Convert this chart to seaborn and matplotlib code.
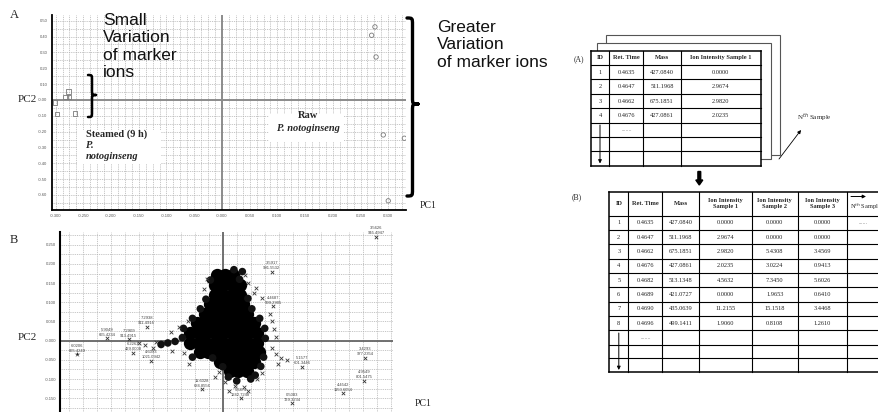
import matplotlib
matplotlib.use("Agg")
import matplotlib.pyplot as plt
import seaborn as sns
from matplotlib.path import Path
from matplotlib.patches import PathPatch, Rectangle, FancyArrow
from matplotlib.ticker import MultipleLocator, FixedLocator

sns.set_theme(style="white")
plt.rcParams["font.family"] = ["Liberation Sans", "DejaVu Sans"]
SERIF = ["Liberation Serif", "DejaVu Serif"]

# ---------------- Panel A: PCA scores ----------------
steamed_pc1 = [-0.301, -0.297, -0.282, -0.276, -0.277, -0.265]
steamed_pc2 = [-0.017, -0.090, 0.020, 0.020, 0.052, -0.086]
raw_pc1 = [0.270, 0.276, 0.278, 0.291, 0.329, 0.300]
raw_pc2 = [0.408, 0.461, 0.271, -0.221, -0.242, -0.637]

a_xticks = [-0.300, -0.250, -0.200, -0.150, -0.100, -0.050, 0.000,
            0.050, 0.100, 0.150, 0.200, 0.250, 0.300]
a_xticklabels = ["-0.300", "-0.250", "-0.200", "-0.150", "-0.100", "-0.050",
                 "-0.000", "0.050", "0.100", "0.150", "0.200", "0.250", "0.300"]
a_yticks = [0.50, 0.40, 0.30, 0.20, 0.10, 0.00, -0.10, -0.20, -0.30,
            -0.40, -0.50, -0.60]
a_yticklabels = ["0.50", "0.40", "0.30", "0.20", "0.10", "-0.00", "-0.10",
                 "-0.20", "-0.30", "-0.40", "-0.50", "-0.60"]

# ---------------- Panel B: PCA loadings ----------------
# dense core of the loadings cloud
core_pc1 = [-0.011, 0.004, 0.019,
            -0.014, 0.001, 0.016, 0.031,
            -0.014, 0.001, 0.016, 0.031,
            -0.023, -0.008, 0.007, 0.022, 0.037,
            -0.032, -0.017, -0.002, 0.013, 0.028, 0.043,
            -0.046, -0.032, -0.017, -0.002, 0.013, 0.028, 0.043, 0.055,
            -0.058, -0.043, -0.029, -0.014, 0.001, 0.016, 0.031, 0.046, 0.061,
            -0.058, -0.043, -0.029, -0.014, 0.001, 0.016, 0.031, 0.046, 0.061,
            -0.040, -0.026, -0.011, 0.004, 0.019, 0.034, 0.049, 0.064,
            -0.005, 0.010, 0.025, 0.040, 0.055,
            0.013, 0.028, 0.043]
core_pc2 = [0.170, 0.170, 0.170,
            0.145, 0.145, 0.145, 0.145,
            0.120, 0.120, 0.120, 0.120,
            0.095, 0.095, 0.095, 0.095, 0.095,
            0.070, 0.070, 0.070, 0.070, 0.070, 0.070,
            0.045, 0.045, 0.045, 0.045, 0.045, 0.045, 0.045, 0.045,
            0.020, 0.020, 0.020, 0.020, 0.020, 0.020, 0.020, 0.020, 0.020,
            -0.005, -0.005, -0.005, -0.005, -0.005, -0.005, -0.005, -0.005, -0.005,
            -0.030, -0.030, -0.030, -0.030, -0.030, -0.030, -0.030, -0.030,
            -0.055, -0.055, -0.055, -0.055, -0.055,
            -0.080, -0.080, -0.080]

# ions at the rim of the core
rim_pc1 = [-0.022, 0.030, -0.030, 0.045, -0.040, 0.052, -0.054, 0.066,
           -0.070, 0.075, -0.072, 0.076, -0.054, 0.073, -0.018, 0.068,
           0.000, 0.058, 0.010, 0.050, 0.025, -0.085, -0.098, -0.110,
           0.020, 0.035]
rim_pc2 = [0.158, 0.160, 0.108, 0.110, 0.083, 0.083, 0.058, 0.058,
           0.032, 0.032, 0.008, 0.006, -0.043, -0.043, -0.045, -0.067,
           -0.068, -0.090, -0.095, -0.100, -0.105, -0.002, -0.006, -0.010,
           0.185, 0.180]

# sparser ions around the core
fringe_pc1 = [0.045, 0.060, 0.055, 0.070, 0.040, -0.028, -0.034,
              0.085, 0.088, 0.092, 0.096, 0.088, 0.095, 0.104, 0.114, 0.098,
              -0.062, -0.078, -0.092, -0.120, -0.138, -0.150, -0.090,
              -0.070, -0.060, -0.125,
              -0.006, -0.014, 0.004, 0.022, 0.038, 0.062, 0.070, 0.046, 0.012]
fringe_pc2 = [0.150, 0.138, 0.125, 0.112, 0.170, 0.160, 0.135,
              0.070, 0.050, 0.030, 0.010, -0.020, -0.035, -0.045, -0.050, -0.060,
              0.052, 0.036, 0.022, -0.004, -0.012, -0.006, -0.028,
              -0.033, -0.060, -0.020,
              -0.082, -0.095, -0.108, -0.118, -0.122, -0.100, -0.085, -0.132, -0.130]

# labelled ions: retention time / mass
ion_pc1 = [0.274, 0.0875, 0.0905, -0.136, -0.207, -0.168, -0.1595, -0.128,
           0.254, 0.253, 0.2155, 0.124, 0.141, 0.032, -0.0375]
ion_pc2 = [0.271, 0.180, 0.090, 0.0365, 0.006, 0.004, -0.032, -0.052,
           -0.044, -0.104, -0.137, -0.163, -0.068, -0.150, -0.127]
ion_rt = ["3.5626", "3.5917", "4.4687", "7.2938", "5.9049", "7.2909", "6.2263",
          "4.6093", "3.4293", "4.9549", "4.4542", "0.5083", "5.1577", "5.6874",
          "11.6028"]
ion_mass = ["945.4947", "991.5532", "599.2905", "911.4916", "665.4234",
            "913.4915", "429.0008", "1021.0942", "977.2354", "801.5475",
            "1153.6054", "729.3234", "601.3446", "1242.7248", "684.8556"]
marker_ion_pc1 = [-0.2595]
marker_ion_pc2 = [-0.035]
marker_ion_rt = ["6.0206"]
marker_ion_mass = ["665.4249"]

b_yticks = [0.250, 0.200, 0.150, 0.100, 0.050, 0.000, -0.050, -0.100, -0.150]
b_yticklabels = ["0.250", "0.200", "0.150", "0.100", "0.050", "-0.000",
                 "-0.050", "-0.100", "-0.150"]

# ---------------- Data matrix tables ----------------
ids = ["1", "2", "3", "4", "5", "6", "7", "8"]
ret_time = ["0.4635", "0.4647", "0.4662", "0.4676", "0.4682", "0.4689",
            "0.4690", "0.4696"]
mass = ["427.0840", "511.1968", "675.1851", "427.0861", "513.1348",
        "421.0727", "435.0639", "499.1411"]
sample1 = ["0.0000", "2.9674", "2.9820", "2.0235", "4.5632", "0.0000",
           "11.2155", "1.9060"]
sample2 = ["0.0000", "0.0000", "5.4308", "3.0224", "7.3450", "1.9653",
           "15.1518", "0.8108"]
sample3 = ["0.0000", "0.0000", "3.4569", "0.9413", "5.6026", "0.6410",
           "3.4468", "1.2610"]
head_a = ["ID", "Ret. Time", "Mass", "Ion Intensity Sample 1"]
head_b = ["ID", "Ret. Time", "Mass", "Ion Intensity\nSample 1",
          "Ion Intensity\nSample 2", "Ion Intensity\nSample 3"]

fig = plt.figure(figsize=(8.79, 4.12), dpi=100)
W, H = 879.0, 412.0


def style_axes(ax, lw_spine):
    for s in ("top", "right"):
        ax.spines[s].set_visible(False)
    for s in ("left", "bottom"):
        ax.spines[s].set_color("black")
        ax.spines[s].set_linewidth(lw_spine)
    ax.grid(which="both", color="#b0b0b0", lw=0.55, ls=(0, (1.2, 1.2)))
    ax.set_axisbelow(True)
    ax.tick_params(which="major", direction="out", length=2, width=0.6,
                   color="#444444", labelsize=3, labelcolor="#555555", pad=1)
    ax.tick_params(which="minor", length=0)


# ---- Panel A axes ----
axA = fig.add_axes([51.7 / W, 1 - 210 / H, (406 - 51.7) / W, 195 / H])
axA.set_facecolor("white")
axA.set_xlim(-0.307, 0.332)
axA.set_ylim(-0.695, 0.536)
axA.xaxis.set_major_locator(FixedLocator(a_xticks))
axA.set_xticklabels(a_xticklabels)
axA.yaxis.set_major_locator(FixedLocator(a_yticks))
axA.set_yticklabels(a_yticklabels)
axA.xaxis.set_minor_locator(MultipleLocator(0.0125))
axA.yaxis.set_minor_locator(MultipleLocator(0.05))
style_axes(axA, 1.3)
axA.axhline(0, color="#8c8c8c", lw=1.4, zorder=1.5)
axA.axvline(0, color="#8c8c8c", lw=1.4, zorder=1.5)

sns.scatterplot(x=steamed_pc1, y=steamed_pc2, ax=axA, marker="s", s=10,
                facecolor="none", edgecolor="#7a7a7a", linewidth=0.6, zorder=3)
sns.scatterplot(x=raw_pc1, y=raw_pc2, ax=axA, marker="o", s=10,
                facecolor="none", edgecolor="#7a7a7a", linewidth=0.6, zorder=3)

# group labels on white panels
axA.add_patch(Rectangle((-0.262, -0.405), 0.152, 0.215, fc="white",
                        ec="none", zorder=2.5))
axA.text(-0.246, -0.215, "Steamed (9 h)", family=SERIF, fontsize=7.5,
         fontweight="bold", ha="left", va="center", zorder=4)
axA.text(-0.246, -0.287, "P.", family=SERIF, fontsize=7.5, fontweight="bold",
         style="italic", ha="left", va="center", zorder=4)
axA.text(-0.246, -0.357, "notoginseng", family=SERIF, fontsize=7.5,
         fontweight="bold", style="italic", ha="left", va="center", zorder=4)

axA.add_patch(Rectangle((0.085, -0.265), 0.135, 0.175, fc="white",
                        ec="none", zorder=2.5))
axA.text(0.156, -0.100, "Raw", family=SERIF, fontsize=7.5, fontweight="bold",
         ha="center", va="center", zorder=4)
axA.text(0.156, -0.180, "P. notoginseng", family=SERIF, fontsize=7.5,
         fontweight="bold", style="italic", ha="center", va="center", zorder=4)

# ---- Panel B axes ----
axB = fig.add_axes([60 / W, 0, (393 - 60) / W, (412 - 231.7) / H])
axB.set_facecolor("white")
axB.set_xlim(-0.2905, 0.304)
axB.set_ylim(-0.186, 0.284)
axB.xaxis.set_major_locator(MultipleLocator(0.025))
axB.yaxis.set_major_locator(FixedLocator(b_yticks))
axB.set_yticklabels(b_yticklabels)
axB.yaxis.set_minor_locator(MultipleLocator(0.025))
style_axes(axB, 1.5)
axB.spines["bottom"].set_visible(False)
axB.tick_params(axis="x", length=0, labelbottom=False)
axB.axhline(0, color="#666666", lw=1.3, zorder=1.5)
axB.axvline(0, color="#666666", lw=1.3, zorder=1.5)

sns.scatterplot(x=core_pc1, y=core_pc2, ax=axB, marker="o", s=92,
                color="black", edgecolor="black", linewidth=0, zorder=3)
sns.scatterplot(x=rim_pc1, y=rim_pc2, ax=axB, marker="o", s=30,
                color="#111111", edgecolor="none", linewidth=0, zorder=3)
sns.scatterplot(x=fringe_pc1, y=fringe_pc2, ax=axB, marker="x", s=7,
                color="#3a3a3a", linewidth=0.6, zorder=3)
sns.scatterplot(x=ion_pc1, y=ion_pc2, ax=axB, marker="x", s=6,
                color="#333333", linewidth=0.6, zorder=3)
sns.scatterplot(x=marker_ion_pc1, y=marker_ion_pc2, ax=axB, marker="*",
                s=22, color="#222222", linewidth=0.3, zorder=3)
for px, py, rt, ms in zip(ion_pc1 + marker_ion_pc1, ion_pc2 + marker_ion_pc2,
                          ion_rt + marker_ion_rt, ion_mass + marker_ion_mass):
    axB.text(px, py + 0.004, f"{rt}\n{ms}", fontsize=3, color="#444444",
             ha="center", va="bottom", linespacing=1.3, zorder=4,
             clip_on=False)

# ---------------- overlay in pixel coordinates ----------------
ov = fig.add_axes([0, 0, 1, 1])
ov.set_xlim(0, W)
ov.set_ylim(H, 0)
ov.axis("off")
ov.patch.set_alpha(0)

ov.text(10, 15, "A", family=SERIF, fontsize=9, ha="left", va="center")
ov.text(18, 99, "PC2", family=SERIF, fontsize=8, ha="left", va="center")
ov.text(420, 205, "PC1", family=SERIF, fontsize=7, ha="left", va="center")
ov.text(10, 240, "B", family=SERIF, fontsize=9, ha="left", va="center")
ov.text(18, 337, "PC2", family=SERIF, fontsize=8, ha="left", va="center")
ov.text(415, 403, "PC1", family=SERIF, fontsize=7, ha="left", va="center")

ov.text(103, 13, "Small\nVariation\nof marker\nions", fontsize=12.5,
        ha="left", va="top", linespacing=1.2, color="#111111")
ov.text(437, 20, "Greater\nVariation\nof marker ions", fontsize=12.5,
        ha="left", va="top", linespacing=1.2, color="#111111")


def brace(ax, x0, y0, y1, w, ym, lw):
    xm = x0 + w * 0.5
    r = w * 0.6
    verts = [(x0, y0), (xm, y0), (xm, y0), (xm, y0 + r),
             (xm, ym - r),
             (xm, ym), (xm, ym), (x0 + w, ym),
             (xm, ym), (xm, ym), (xm, ym + r),
             (xm, y1 - r),
             (xm, y1), (xm, y1), (x0, y1)]
    codes = [Path.MOVETO, Path.CURVE4, Path.CURVE4, Path.CURVE4,
             Path.LINETO,
             Path.CURVE4, Path.CURVE4, Path.CURVE4,
             Path.CURVE4, Path.CURVE4, Path.CURVE4,
             Path.LINETO,
             Path.CURVE4, Path.CURVE4, Path.CURVE4]
    ax.add_patch(PathPatch(Path(verts, codes), fc="none", ec="black",
                           lw=lw, capstyle="round", joinstyle="round"))


brace(ov, 88, 75, 117, 8, 95, 1.8)
brace(ov, 407, 18, 196, 11, 104, 2.4)


def draw_table(ax, xs, ys, lw_out=1.1, lw_in=0.8):
    for i, x in enumerate(xs):
        lw = lw_out if i in (0, len(xs) - 1) else lw_in
        ax.plot([x, x], [ys[0], ys[-1]], color="black", lw=lw,
                solid_capstyle="projecting")
    for j, y in enumerate(ys):
        lw = lw_out if j in (0, len(ys) - 1) else lw_in
        ax.plot([xs[0], xs[-1]], [y, y], color="black", lw=lw,
                solid_capstyle="projecting")


# table (A): stacked sample sheets
ov.add_patch(Rectangle((606, 35), 173.7, 120, fc="white", ec="#555555",
                       lw=0.8, zorder=1))
ov.add_patch(Rectangle((597.3, 42.7), 173.4, 116.6, fc="white",
                       ec="#555555", lw=0.8, zorder=1.2))
xa = [591, 609.3, 643.3, 680.7, 761]
ya = [50.7, 65, 79.3, 93.7, 108.3, 122.7, 137, 151.3, 165.7]
ov.add_patch(Rectangle((xa[0], ya[0]), xa[-1] - xa[0], ya[-1] - ya[0],
                       fc="white", ec="none", zorder=1.4))
draw_table(ov, xa, ya)
for c, htxt in enumerate(head_a):
    ov.text((xa[c] + xa[c + 1]) / 2, (ya[0] + ya[1]) / 2, htxt, family=SERIF,
            fontsize=4.6, fontweight="bold", ha="center", va="center")
for r in range(4):
    yc = (ya[r + 1] + ya[r + 2]) / 2
    for c, col in enumerate([ids, ret_time, mass, sample1]):
        ov.text((xa[c] + xa[c + 1]) / 2, yc, col[r], family=SERIF,
                fontsize=4.6, ha="center", va="center")
ov.text((xa[1] + xa[2]) / 2, (ya[5] + ya[6]) / 2, ".......", fontsize=4,
        color="#666666", ha="center", va="center")
ov.annotate("", xy=(600, 163.5), xytext=(600, 125),
            arrowprops=dict(arrowstyle="-|>", lw=0.7, color="black",
                            mutation_scale=5, shrinkA=0, shrinkB=0))
ov.text(579, 59, "(A)", family=SERIF, fontsize=5.5, ha="center", va="center")
ov.text(797, 117, "N$^{th}$ Sample", family=SERIF, fontsize=5, ha="left",
        va="center")
ov.annotate("", xy=(801, 130), xytext=(779, 159),
            arrowprops=dict(arrowstyle="-|>", lw=0.6, color="black",
                            mutation_scale=5, shrinkA=0, shrinkB=0))

# merge arrow
ov.add_patch(FancyArrow(699.3, 171.5, 0, 13.5, width=2.8, head_width=7,
                        head_length=5, length_includes_head=True,
                        color="black"))

# table (B): combined data matrix
xb = [609.3, 628.3, 662.3, 699.3, 751.7, 797.7, 847.3, 895]
yb = [191.7, 215.7, 230, 244.3, 258.7, 273, 287.3, 301.7, 316, 330.3,
      344.7, 357.7, 372]
draw_table(ov, xb, yb)
for c, htxt in enumerate(head_b):
    ov.text((xb[c] + xb[c + 1]) / 2, (yb[0] + yb[1]) / 2, htxt, family=SERIF,
            fontsize=4.6, fontweight="bold", ha="center", va="center",
            linespacing=1.15)
ov.annotate("", xy=(866, 196.5), xytext=(851, 196.5),
            arrowprops=dict(arrowstyle="-|>", lw=0.7, color="black",
                            mutation_scale=5, shrinkA=0, shrinkB=0))
ov.text(850, 207, "N$^{th}$ Sampl", family=SERIF, fontsize=4.6, ha="left",
        va="center")
for r in range(8):
    yc = (yb[r + 1] + yb[r + 2]) / 2
    for c, col in enumerate([ids, ret_time, mass, sample1, sample2, sample3]):
        ov.text((xb[c] + xb[c + 1]) / 2, yc, col[r], family=SERIF,
                fontsize=4.6, ha="center", va="center")
ov.text(863, (yb[1] + yb[2]) / 2, "......", fontsize=4, color="#666666",
        ha="center", va="center")
ov.text((xb[1] + xb[2]) / 2, (yb[9] + yb[10]) / 2, ".......", fontsize=4,
        color="#666666", ha="center", va="center")
ov.annotate("", xy=(618.8, 370), xytext=(618.8, 333),
            arrowprops=dict(arrowstyle="-|>", lw=0.7, color="black",
                            mutation_scale=5, shrinkA=0, shrinkB=0))
ov.text(577, 197, "(B)", family=SERIF, fontsize=5.5, ha="center", va="center")

fig.savefig("out.png", dpi=100)
